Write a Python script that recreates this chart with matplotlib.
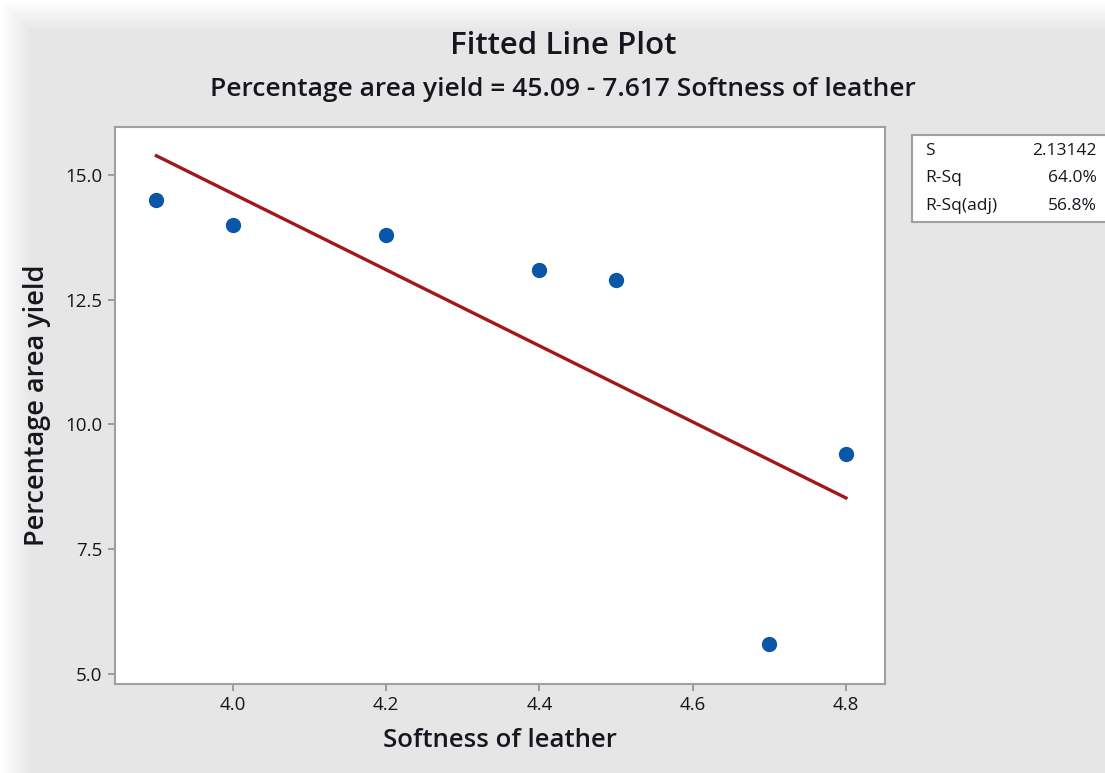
import numpy as np
import matplotlib.pyplot as plt

# Datos
softness = [3.9, 4.0, 4.2, 4.4, 4.5, 4.7, 4.8]
area_yield = [14.5, 14.0, 13.8, 13.1, 12.9, 5.6, 9.4]
b0 = 45.09
b1 = -7.617
stat_names = ['S', 'R-Sq', 'R-Sq(adj)']
stat_values = ['2.13142', '64.0%', '56.8%']
xticks = [4.0, 4.2, 4.4, 4.6, 4.8]
yticks = [5.0, 7.5, 10.0, 12.5, 15.0]

plt.rcParams['font.family'] = ['Open Sans', 'DejaVu Sans']
txt = '#16161f'
W, H = 1105, 773

fig = plt.figure(figsize=(W / 100, H / 100), dpi=100)
fig.patch.set_facecolor('#e6e6e6')

# sombra/borde claro arriba y a la izquierda (captura de pantalla)
bg = fig.add_axes([0, 0, 1, 1], zorder=-10)
gx = np.clip(np.arange(W) / 30.0, 0, 1)
gy = np.clip(np.arange(H) / 30.0, 0, 1)
g = np.minimum.outer(gy, gx)
shade = 1.0 - g * (1.0 - 0.902)
bg.imshow(shade, cmap='gray', vmin=0, vmax=1, aspect='auto', extent=[0, 1, 0, 1], origin='upper')
bg.axis('off')

ax = fig.add_axes([115 / W, 1 - 684 / H, (885 - 115) / W, (684 - 127) / H])
ax.set_facecolor('white')

xs = np.linspace(3.9, 4.8, 50)
ax.plot(xs, b0 + b1 * xs, color='#a01818', lw=2.4, zorder=2)
ax.plot(softness, area_yield, 'o', color='#0a56a8', ms=10, zorder=3)

ax.set_xlim(3.846, 4.851)
ax.set_ylim(4.8, 15.96)
ax.set_xticks(xticks)
ax.set_xticklabels(['%.1f' % v for v in xticks])
ax.set_yticks(yticks)
ax.set_yticklabels(['%.1f' % v for v in yticks])
for s in ax.spines.values():
    s.set_color('#a0a0a0')
    s.set_linewidth(1.5)
ax.tick_params(colors='#909090', labelcolor=txt, labelsize=13.5, length=5, width=1.2, pad=4)

ax.set_xlabel('Softness of leather', fontsize=18.5, color=txt, labelpad=10, weight='semibold')
ax.set_ylabel('Percentage area yield', fontsize=19.5, color=txt, labelpad=10, weight='semibold')

fig.text(563 / W, 1 - 46 / H, 'Fitted Line Plot', ha='center', va='center', fontsize=22.5,
         color=txt, weight='semibold')
fig.text(563 / W, 1 - 89 / H, 'Percentage area yield = 45.09 - 7.617 Softness of leather',
         ha='center', va='center', fontsize=19, color=txt, weight='semibold')

# cuadro de estadisticas
box = plt.Rectangle((912 / W, 1 - 222 / H), (1110 - 912) / W, (222 - 135) / H,
                    transform=fig.transFigure, facecolor='white', edgecolor='#a0a0a0', lw=1.5)
fig.patches.append(box)
for i, (n, v) in enumerate(zip(stat_names, stat_values)):
    y = 1 - (151 + i * 27.5) / H
    fig.text(925 / W, y, n, ha='left', va='center', fontsize=12.5, color=txt, weight='medium')
    fig.text(1097 / W, y, v, ha='right', va='center', fontsize=12.5, color=txt, weight='medium')

fig.savefig('out.png', dpi=100, facecolor=fig.get_facecolor())
